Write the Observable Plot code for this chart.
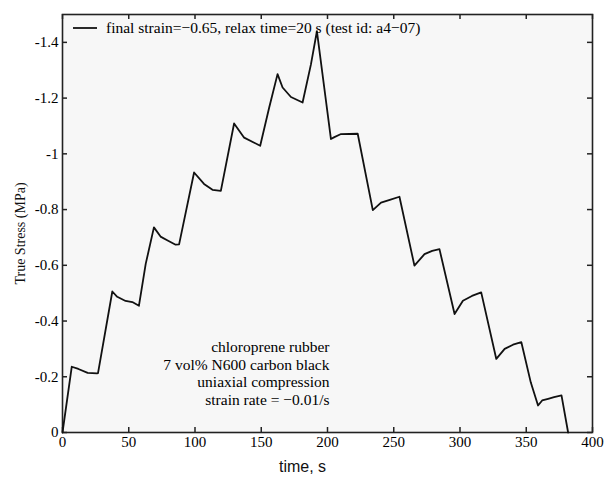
<!DOCTYPE html>
<html>
<head>
<meta charset="utf-8">
<script src="https://cdn.jsdelivr.net/npm/d3@7"></script>
<script src="https://cdn.jsdelivr.net/npm/@observablehq/plot@0.6"></script>
<style>
  html, body { margin: 0; padding: 0; background: #ffffff; }
  #wrap { position: relative; width: 604px; height: 482px; }
  #legend { position: absolute; left: 72px; top: 19px; font-family: "Liberation Serif", "DejaVu Serif", serif; font-size: 15.5px; color: #000; display: flex; align-items: center; white-space: nowrap; }
  #legend svg { margin-right: 8px; }
</style>
</head>
<body>
<div id="wrap">
  <div id="chart"></div>
  <div id="legend"><svg width="26" height="6"><line x1="1" y1="3" x2="25" y2="3" stroke="#111" stroke-width="1.8"/></svg><span>final strain=−0.65, relax time=20 s (test id: a4−07)</span></div>
</div>
<script>
const time = [0, 7, 12, 19, 26, 26.8, 37.6, 41.3, 47.6, 52.7, 57.7, 62.8, 69, 74, 79, 85.4, 88, 99.3, 106.8, 113.2, 119.5, 129.5, 137.1, 144.7, 149.2, 156, 162.3, 166.1, 172.4, 181.2, 187.5, 192, 202.6, 205.2, 210.2, 222.8, 234.2, 240.4, 247, 254.3, 265.6, 273.2, 279, 284.5, 295.9, 302.2, 309, 316, 327.4, 333.7, 340, 346.3, 353.4, 358.9, 362, 366.5, 371, 376.6, 381.6];
const stress = [0, -0.236, -0.228, -0.214, -0.212, -0.213, -0.506, -0.487, -0.472, -0.468, -0.455, -0.605, -0.736, -0.703, -0.69, -0.674, -0.675, -0.933, -0.892, -0.871, -0.867, -1.109, -1.058, -1.04, -1.029, -1.166, -1.286, -1.238, -1.204, -1.184, -1.321, -1.44, -1.053, -1.06, -1.071, -1.072, -0.798, -0.825, -0.835, -0.846, -0.599, -0.64, -0.652, -0.658, -0.425, -0.473, -0.49, -0.503, -0.264, -0.3, -0.315, -0.324, -0.18, -0.097, -0.115, -0.121, -0.127, -0.133, 0];
const xTicks = [0, 50, 100, 150, 200, 250, 300, 350, 400];
const yTicks = [0, -0.2, -0.4, -0.6, -0.8, -1, -1.2, -1.4];
const noteLines = ["chloroprene rubber", "7 vol% N600 carbon black", "uniaxial compression", "strain rate = −0.01/s"];

const data = time.map((t, i) => ({t, s: stress[i]}));
const fmtY = d => d === 0 ? "0" : "-" + String(Math.abs(d));

const W = 604, H = 482, ML = 62, MR = 12, MT = 14, MB = 50;
const xDom = [0, 400], yDom = [0, -1.5];
const fw = W - ML - MR, fh = H - MT - MB, tk = 5;
// inward tick length converted to data units
const tkY = tk * Math.abs(yDom[1] - yDom[0]) / fh;
const tkX = tk * Math.abs(xDom[1] - xDom[0]) / fw;

const chart = Plot.plot({
  width: W,
  height: H,
  marginLeft: ML,
  marginRight: MR,
  marginTop: MT,
  marginBottom: MB,
  style: {background: "#ffffff", fontFamily: "'Liberation Serif', 'DejaVu Serif', serif", fontSize: "15px", color: "#000"},
  x: {domain: xDom},
  y: {domain: yDom},
  marks: [
    Plot.frame({fill: "#f7f7f7", stroke: null}),
    Plot.axisX(xTicks, {anchor: "bottom", tickSize: 0, tickPadding: 4, label: null, fontSize: 15, fill: "#000"}),
    Plot.axisY(yTicks, {anchor: "left", tickSize: 0, tickPadding: 4, tickFormat: fmtY, label: null, fontSize: 15, fill: "#000"}),
    Plot.ruleX(xTicks, {x: d => d, y1: yDom[0], y2: yDom[0] - tkY, stroke: "#222", strokeWidth: 1.5}),
    Plot.ruleX(xTicks, {x: d => d, y1: yDom[1], y2: yDom[1] + tkY, stroke: "#222", strokeWidth: 1.5}),
    Plot.ruleY(yTicks, {y: d => d, x1: xDom[0], x2: xDom[0] + tkX, stroke: "#222", strokeWidth: 1.5}),
    Plot.ruleY(yTicks, {y: d => d, x1: xDom[1], x2: xDom[1] - tkX, stroke: "#222", strokeWidth: 1.5}),
    Plot.frame({stroke: "#222", strokeWidth: 1.6}),
    Plot.line(data, {x: "t", y: "s", stroke: "#111", strokeWidth: 1.8}),
    Plot.text([noteLines.join("\n")], {frameAnchor: "bottom-right", textAnchor: "end", lineAnchor: "bottom", dx: -263, dy: -28, lineHeight: 1.12, fontSize: 15.5, fill: "#000"}),
    Plot.text(["time, s"], {frameAnchor: "bottom", textAnchor: "middle", dx: -25, dy: 34, lineAnchor: "middle", fontFamily: "'Liberation Sans', Arial, sans-serif", fontSize: 16, fill: "#111"}),
    Plot.text(["True Stress (MPa)"], {frameAnchor: "left", textAnchor: "middle", dx: -42, dy: 10, rotate: -90, fontFamily: "'Liberation Serif', serif", fontSize: 14, fill: "#111"})
  ]
});
document.getElementById("chart").appendChild(chart);
</script>
</body>
</html>
